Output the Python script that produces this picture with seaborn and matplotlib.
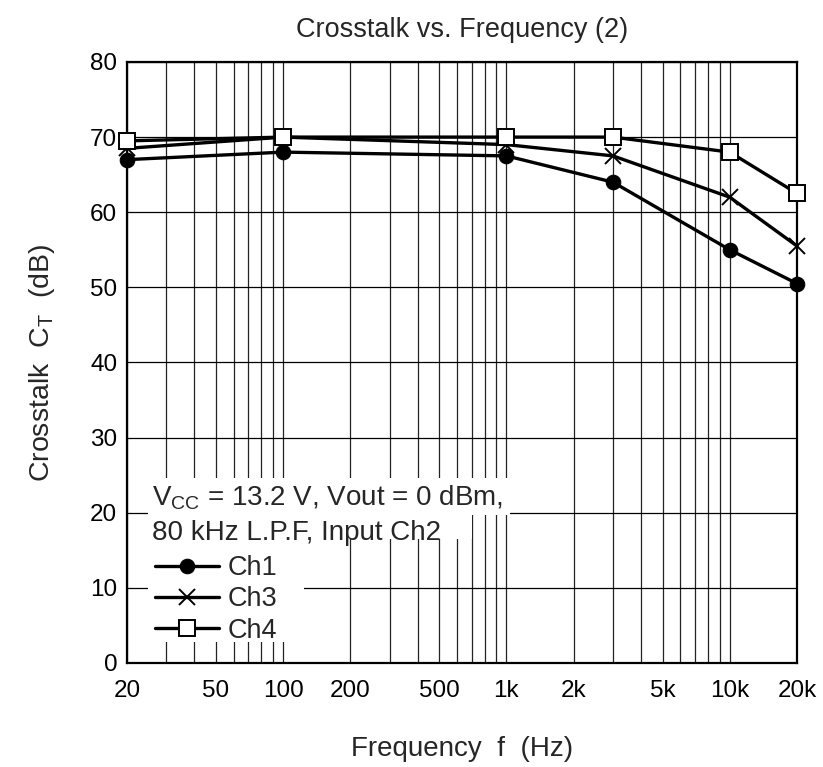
import matplotlib
matplotlib.use("Agg")
import matplotlib.pyplot as plt
import seaborn as sns
import pandas as pd
from matplotlib.patches import Rectangle
from matplotlib.ticker import FixedLocator, NullFormatter

freq = [20, 100, 1000, 3000, 10000, 20000]
ch1 = [67.0, 68.0, 67.5, 64.0, 55.0, 50.5]
ch3 = [68.5, 70.0, 69.0, 67.5, 62.0, 55.5]
ch4 = [69.5, 70.0, 70.0, 70.0, 68.0, 62.5]
xtick_vals = [20, 50, 100, 200, 500, 1000, 2000, 5000, 10000, 20000]
xtick_labels = ["20", "50", "100", "200", "500", "1k", "2k", "5k", "10k", "20k"]
grid_x = [20, 30, 40, 50, 60, 70, 80, 90, 100, 200, 300, 400, 500, 600, 700, 800, 900,
          1000, 2000, 3000, 4000, 5000, 6000, 7000, 8000, 9000, 10000, 20000]

sns.set_theme(style="white")
plt.rcParams["font.family"] = ["Liberation Sans", "DejaVu Sans"]

fig = plt.figure(figsize=(8.23, 7.67), dpi=100)
ax = fig.add_axes([0.1543, 0.1356, 0.8141, 0.7836])

df = pd.DataFrame({
    "f": freq * 3,
    "ct": ch1 + ch3 + ch4,
    "ch": ["Ch1"] * 6 + ["Ch3"] * 6 + ["Ch4"] * 6,
})

styles = {
    "Ch1": dict(marker="o", markersize=10.5, markerfacecolor="black", markeredgecolor="black"),
    "Ch3": dict(marker="x", markersize=12, markeredgewidth=1.4, markeredgecolor="black"),
    "Ch4": dict(marker="s", markersize=11, markerfacecolor="white", markeredgecolor="black", markeredgewidth=1.4),
}
for name in ["Ch1", "Ch3", "Ch4"]:
    sub = df[df["ch"] == name]
    sns.lineplot(data=sub, x="f", y="ct", ax=ax, color="black", linewidth=2.4,
                 label=name, zorder=3, clip_on=False, **styles[name])

ax.set_xscale("log")
ax.set_xlim(20, 20000)
ax.set_ylim(0, 80)
ax.xaxis.set_major_locator(FixedLocator(xtick_vals))
ax.set_xticklabels(xtick_labels)
ax.xaxis.set_minor_locator(FixedLocator(grid_x))
ax.xaxis.set_minor_formatter(NullFormatter())
ax.set_yticks(range(0, 81, 10))
ax.tick_params(axis="both", which="both", length=0, colors="black", labelsize=17.5)
ax.tick_params(axis="x", pad=12)
ax.tick_params(axis="y", pad=7)

ax.set_axisbelow(True)
ax.grid(False)
ax.grid(True, which="both", axis="x", color="#222222", linewidth=0.9)
ax.grid(True, which="major", axis="y", color="black", linewidth=0.9)

for s in ax.spines.values():
    s.set_color("black")
    s.set_linewidth(1.6)

# white backgrounds for the annotation block
ax.add_patch(Rectangle((0.031, 0.246), 0.54, 0.062, transform=ax.transAxes,
                       facecolor="white", edgecolor="none", zorder=1.5))
ax.add_patch(Rectangle((0.031, 0.206), 0.484, 0.045, transform=ax.transAxes,
                       facecolor="white", edgecolor="none", zorder=1.5))
ax.add_patch(Rectangle((0.031, 0.035), 0.2325, 0.175, transform=ax.transAxes,
                       facecolor="white", edgecolor="none", zorder=1.5))

ax.text(0.037, 0.2745, "V$_{\\mathregular{CC}}$ = 13.2 V, Vout = 0 dBm,", transform=ax.transAxes,
        fontsize=20, va="center", ha="left", zorder=4)
ax.text(0.037, 0.216, "80 kHz L.P.F, Input Ch2", transform=ax.transAxes,
        fontsize=20, va="center", ha="left", zorder=4)

leg = ax.legend(loc="upper left", bbox_to_anchor=(0.0418, 0.1797), frameon=False, fontsize=19.5,
                handlelength=2.35, handletextpad=0.34, labelspacing=0.2, borderaxespad=0,
                borderpad=0)
leg.set_zorder(5)
for h in leg.get_lines():
    h.set_linewidth(2.4)

ax.set_xlabel("Frequency  f  (Hz)", fontsize=20, labelpad=25)
ax.set_ylabel("Crosstalk  C$_\\mathregular{T}$  (dB)", fontsize=20.5, labelpad=24)
ax.set_title("Crosstalk vs. Frequency (2)", fontsize=19.5, pad=18)

fig.savefig("out.png", dpi=100)
